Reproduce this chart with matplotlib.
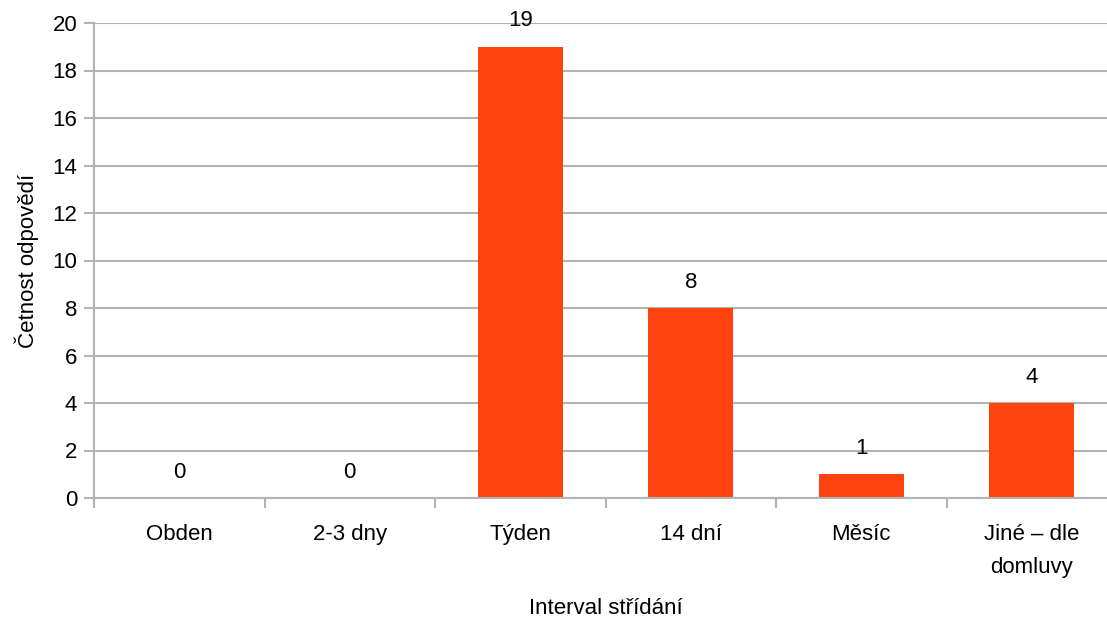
import matplotlib.pyplot as plt
import numpy as np

categories = ['Obden', '2-3 dny', 'Týden', '14 dní', 'Měsíc', 'Jiné – dle\ndomluvy']
counts = [0, 0, 19, 8, 1, 4]
yticks = list(range(0, 21, 2))

plt.rcParams['font.family'] = ['Liberation Sans', 'DejaVu Sans']

fig = plt.figure(figsize=(11.07, 6.19), dpi=100)
ax = fig.add_axes([94 / 1107, 121 / 619, 1023 / 1107, 475 / 619])

x = np.arange(len(categories))
ax.bar(x, counts, width=0.5, color='#ff420e', zorder=3)
for xi, v in zip(x, counts):
    ax.annotate(str(v), (xi, v), xytext=(0, 11), textcoords='offset points',
                ha='center', va='bottom', fontsize=16)

ax.set_xlim(-0.5, len(categories) - 0.5)
ax.set_ylim(0, 20)
ax.set_yticks(yticks)
ax.tick_params(axis='y', labelsize=16, length=7, width=1.5, color='#b3b3b3', pad=5)

ax.set_xticks(x)
ax.set_xticklabels(categories, fontsize=16, linespacing=1.75)
ax.tick_params(axis='x', length=0, pad=19)
ax.set_xticks(np.arange(-0.5, len(categories), 1), minor=True)
ax.tick_params(axis='x', which='minor', length=7, width=1.5, color='#b3b3b3')

ax.grid(axis='y', color='#b3b3b3', linewidth=1.5, zorder=0)
for s in ['top', 'right']:
    ax.spines[s].set_visible(False)
for s in ['left', 'bottom']:
    ax.spines[s].set_color('#b3b3b3')
    ax.spines[s].set_linewidth(1.5)
    ax.spines[s].set_zorder(4)

ax.set_xlabel('Interval střídání', fontsize=16, labelpad=14)
ax.set_ylabel('Četnost odpovědí', fontsize=16, labelpad=10)

fig.savefig('out.png', dpi=100)
